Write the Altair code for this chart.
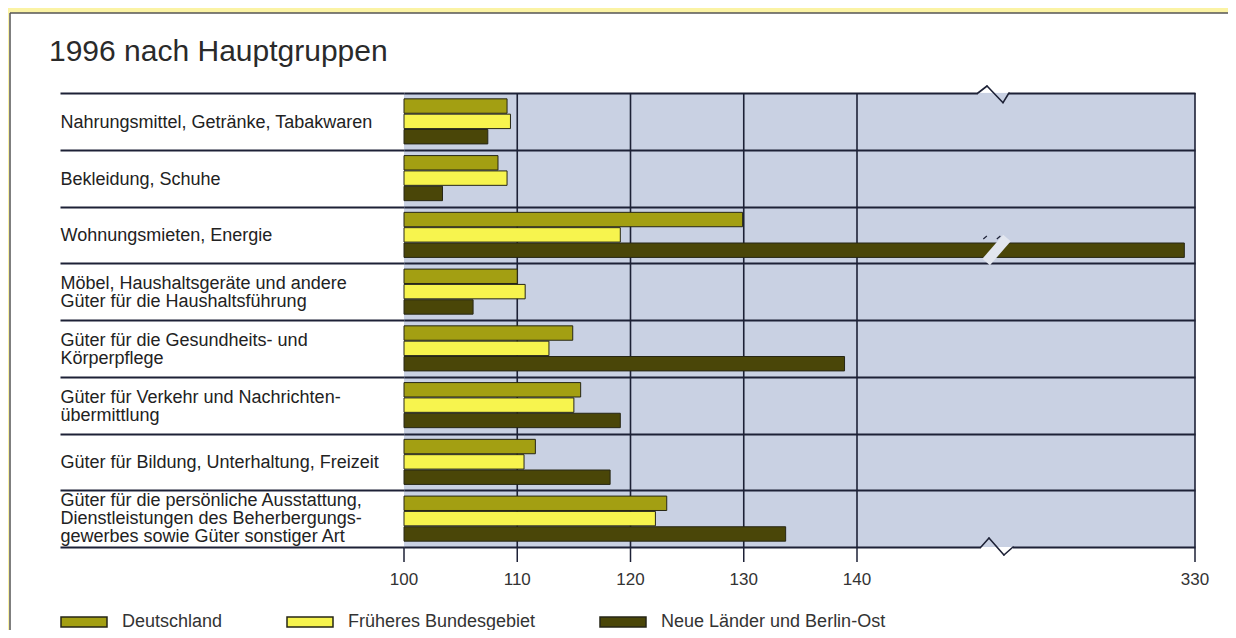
import altair as alt
import pandas as pd

title_text = "1996 nach Hauptgruppen"

categories = [
    "Nahrungsmittel, Getränke, Tabakwaren",
    "Bekleidung, Schuhe",
    "Wohnungsmieten, Energie",
    "Möbel, Haushaltsgeräte und andere\nGüter für die Haushaltsführung",
    "Güter für die Gesundheits- und\nKörperpflege",
    "Güter für Verkehr und Nachrichten-\nübermittlung",
    "Güter für Bildung, Unterhaltung, Freizeit",
    "Güter für die persönliche Ausstattung,\nDienstleistungen des Beherbergungs-\ngewerbes sowie Güter sonstiger Art",
]
series = ["Deutschland", "Früheres Bundesgebiet", "Neue Länder und Berlin-Ost"]
deutschland = [109.1, 108.3, 129.9, 110.0, 114.9, 115.6, 111.6, 123.2]
frueheres = [109.4, 109.1, 119.1, 110.7, 112.8, 115.0, 110.6, 122.2]
neue = [107.4, 103.4, 324.0, 106.1, 138.9, 119.1, 118.2, 133.7]
tick_values = [100, 110, 120, 130, 140, 330]
break_domain = [100, 140, 330]   # broken axis: 140 .. 330 compressed

colors = ["#a39f12", "#f7f44e", "#4a4608"]
plot_bg = "#c9d1e3"
line_col = "#1d2136"
yellow = "#fbf3a4"
font = "Liberation Sans"

W, H = 791, 454

rows = []
for s, vals in zip(series, [deutschland, frueheres, neue]):
    for c, v in zip(categories, vals):
        rows.append({"category": c, "series": s, "value": v})
df = pd.DataFrame(rows)
ticks_df = pd.DataFrame({"tick": tick_values})
grid_df = pd.DataFrame({"tick": [t for t in tick_values if t != tick_values[0]]})

one = alt.Data(values=[{"t": title_text}])

x_scale = alt.Scale(domain=break_domain, range=[0, 453, W], nice=False, zero=False)

nlines = "length(split(datum.value, '\\n'))"
y_axis = alt.Axis(
    title=None, tickBand="extent", tickSize=344, tickColor=line_col, tickWidth=1.8,
    grid=True, gridColor=line_col, gridWidth=1.8, domain=False,
    labelAlign="left", labelPadding=0, labelBaseline="middle",
    labelFont=font, labelFontSize=18, labelColor="#222222", labelLimit=345,
    labelLineHeight=18, labelExpr="split(datum.label, '\\n')",
    labelOffset={"condition": [
        {"test": nlines + " == 3", "value": -18},
        {"test": nlines + " == 2", "value": -8},
    ], "value": 1},
)

vgrid = alt.Chart(grid_df).mark_rule(color=line_col, strokeWidth=1.6).encode(
    x=alt.X("tick:Q", scale=x_scale, axis=None),
)
xticks = alt.Chart(ticks_df).mark_rule(color=line_col, strokeWidth=1.5).encode(
    x=alt.X("tick:Q", scale=x_scale, axis=None),
    y=alt.value(H), y2=alt.value(H + 15),
)
xlabels = alt.Chart(ticks_df).mark_text(
    baseline="middle", align="center", font=font, fontSize=17, color="#333333"
).encode(
    x=alt.X("tick:Q", scale=x_scale, axis=None),
    y=alt.value(H + 33),
    text=alt.Text("tick:Q", format="d"),
)

bars = alt.Chart(df).mark_bar(stroke="#262616", strokeWidth=1).encode(
    x=alt.X("value:Q", axis=None, scale=x_scale),
    x2=alt.X2Datum(100),
    y=alt.Y("category:N", sort=categories, axis=y_axis,
            scale=alt.Scale(paddingInner=0, paddingOuter=0)),
    yOffset=alt.YOffset("series:N", sort=series,
                        scale=alt.Scale(paddingInner=0.06, paddingOuter=0.38)),
    color=alt.Color(
        "series:N", sort=series,
        scale=alt.Scale(domain=series, range=colors),
        legend=alt.Legend(
            orient="none", legendX=-344, legendY=505, direction="horizontal",
            title=None, padding=0,
            symbolType="M-1,-0.22L1,-0.22L1,0.22L-1,0.22Z", symbolSize=2116,
            symbolStrokeColor="#262616", symbolStrokeWidth=1.5, symbolOpacity=1,
            labelFont=font, labelFontSize=18, labelColor="#333333",
            labelOffset=14, columnPadding=61, labelLimit=400,
        ),
    ),
)


def rect(x, x2, y, y2, color):
    return alt.Chart(one).mark_rect(color=color).encode(
        x=alt.value(x), x2=alt.value(x2), y=alt.value(y), y2=alt.value(y2))


def seg(a, b, ya, yb, color, w, cap="butt"):
    return alt.Chart(one).mark_rule(color=color, strokeWidth=w, strokeCap=cap).encode(
        x=alt.XDatum(a, axis=None), x2=alt.X2Datum(b),
        y=alt.value(ya), y2=alt.value(yb))


frame = [
    rect(-396, 840, -85, -80, yellow),
    rect(-396, -395, -85, 560, yellow),
    alt.Chart(one).mark_rule(color="#555555", strokeWidth=1.5).encode(
        x=alt.value(-394), x2=alt.value(840), y=alt.value(-80), y2=alt.value(-80)),
    alt.Chart(one).mark_rule(color="#555555", strokeWidth=1.5).encode(
        x=alt.value(-394), x2=alt.value(-394), y=alt.value(-80), y2=alt.value(560)),
]

# axis-break decorations
brk = [
    seg(212.6, 224.3, 169, 145, "#e2e6ef", 10),
    seg(211.0, 213.0, 146, 143, line_col, 1.2),
    seg(218.6, 220.6, 146, 143, line_col, 1.2),
    seg(208.0, 225.4, -1.2, -1.2, "#ffffff", 2.6),
    seg(208.0, 225.4, 1.2, 1.2, plot_bg, 2.6),
    seg(209.7, 227.7, H - 1.2, H - 1.2, plot_bg, 2.6),
    seg(209.7, 227.7, H + 1.2, H + 1.2, "#ffffff", 2.6),
]
top_zz = [(208.0, 0), (213.1, -7), (222.1, 9.7), (225.4, 0)]
bot_zz = [(209.7, H), (214.2, H - 9), (222.6, H + 8), (227.7, H)]
for pts in (top_zz, bot_zz):
    for (a, ya), (b, yb) in zip(pts[:-1], pts[1:]):
        brk.append(seg(a, b, ya, yb, line_col, 1.6, "round"))

title = alt.Chart(one).mark_text(
    align="left", baseline="alphabetic", font=font, fontSize=30, color="#2a2a2a"
).encode(x=alt.value(-355), y=alt.value(-32), text="t:N")

chart = alt.layer(*frame, vgrid, xticks, xlabels, bars, *brk, title).properties(
    width=W, height=H,
    autosize=alt.AutoSizeParams(type="none"),
    padding={"left": 396, "top": 85, "right": 33, "bottom": 83},
    background="#ffffff",
).configure_view(fill=plot_bg, stroke=None)

chart.save("out.html", embed_options={"renderer": "svg", "actions": False})
